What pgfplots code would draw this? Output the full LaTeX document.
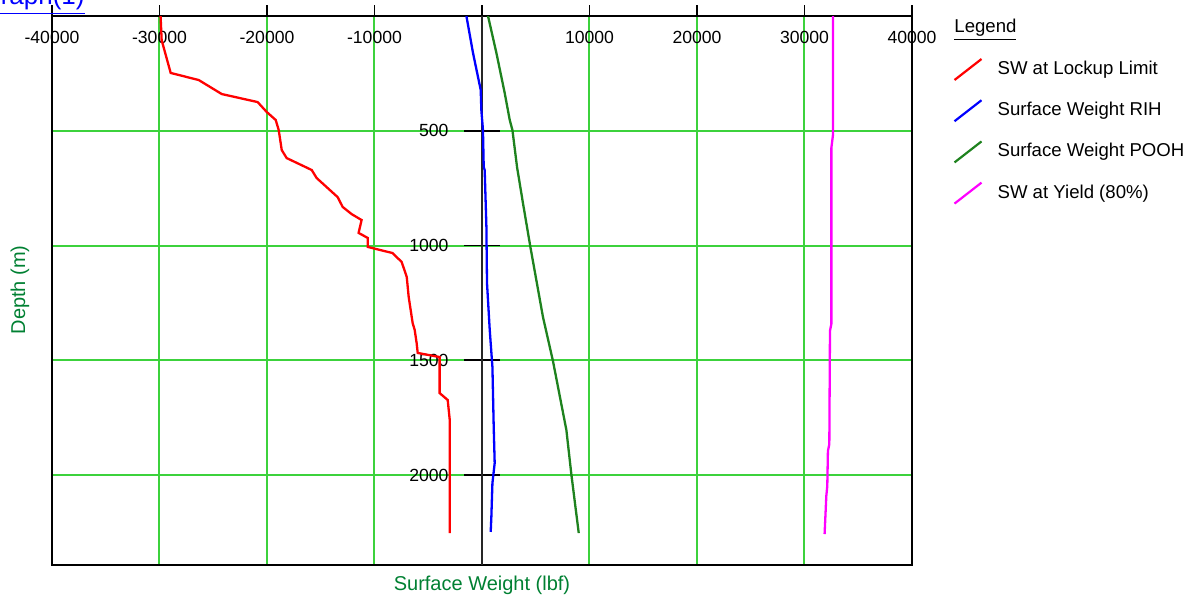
\documentclass[border=0pt]{standalone}
\usepackage{fontspec}
\setmainfont{Liberation Sans}
\usepackage{pgfplots}
\pgfplotsset{compat=1.18}

\definecolor{gridgreen}{RGB}{60,210,60}
\definecolor{labelgreen}{RGB}{0,128,50}
\definecolor{poohgreen}{RGB}{30,130,30}
\definecolor{swred}{RGB}{255,0,0}
\definecolor{swblue}{RGB}{0,0,255}
\definecolor{swmag}{RGB}{255,0,255}

\pgfplotsset{
  common/.style={
    at={(0,0)}, anchor=south west,
    scale only axis,
    width=430pt, height=274.5pt,
    xmin=-40000, xmax=40000,
    ymin=0, ymax=2392,
    y dir=reverse,
    /pgf/number format/assume math mode=true,
    scaled ticks=false,
    ticklabel style={font=\fontsize{8.8}{10}\selectfont},
  }
}

\begin{document}
\begin{tikzpicture}
% frame, grid, x ticks on top
\begin{axis}[
  common,
  axis line style={black, line width=0.9pt},
  xtick={-40000,-30000,...,40000},
  xticklabels={-40000,-30000,-20000,-10000,,10000,20000,30000,40000},
  xtick pos=upper, xticklabel pos=upper,
  tick align=outside,
  major tick length=5.5pt,
  x tick style={black, line width=0.8pt},
  xticklabel style={anchor=center, yshift=-16pt},
  ytick={500,1000,1500,2000},
  yticklabels={},
  y tick style={draw=none},
  grid=major,
  major grid style={gridgreen, line width=1pt},
  xlabel={Surface Weight (lbf)},
  ylabel={Depth (m)},
  label style={font=\fontsize{10}{12}\selectfont, text=labelgreen},
  xlabel style={at={(axis description cs:0.5,-0.0364)}, anchor=center},
  ylabel style={at={(axis description cs:-0.0372,0.501)}, anchor=center, rotate=0},
]
\end{axis}
% zero line, depth ticks and the curves
\begin{axis}[
  common,
  axis x line=none,
  axis y line=middle,
  axis line style={-, black!85, line width=0.9pt},
  ytick={500,1000,1500,2000},
  yticklabels={500,1000,1500,2000},
  tick align=center,
  major tick length=17.5pt,
  y tick style={black, line width=0.9pt},
  yticklabel style={anchor=east, xshift=-4.5pt},
  legend cell align=left,
  legend image code/.code={\draw[#1, line width=1.1pt] (0pt,-5.25pt) -- (13.5pt,5.25pt);},
  legend style={at={(1.0477,0.9244)}, anchor=north west, draw=none, fill=none,
    inner sep=0pt, row sep=9pt,
    font=\fontsize{9.3}{11}\selectfont,
    nodes={inner sep=0pt, text height=7pt, text depth=2pt},
    /tikz/every odd column/.append style={column sep=7.5pt}},
]
\addplot[swred, line width=1.15pt] coordinates {
(-29900,0) (-29800,105) (-28960,248) (-26350,279) (-24210,340) (-20870,375)
(-20030,418) (-19190,453) (-18910,497) (-18630,584) (-18170,619) (-15840,671)
(-15380,706) (-13430,789) (-12960,832) (-12130,863) (-11200,889) (-11480,945)
(-10630,967) (-10630,1006) (-8310,1033) (-7470,1072) (-7000,1137) (-6820,1224)
(-6450,1338) (-6260,1368) (-6080,1425) (-5980,1468) (-3940,1486) (-3940,1643)
(-3190,1673) (-3000,1760) (-3000,2253)
};
\addlegendentry{SW at Lockup Limit}
\addplot[swblue, line width=1.15pt] coordinates {
(-1450,0) (-840,160) (-370,266) (-120,322) (-60,410) (90,497) (160,658)
(250,671) (410,919) (465,1163) (720,1368) (970,1529) (1090,1791) (1180,1948)
(970,2035) (870,2183) (810,2248)
};
\addlegendentry{Surface Weight RIH}
\addplot[poohgreen, line width=1.15pt] coordinates {
(560,0) (1340,161) (2110,335) (2580,453) (2830,497) (3260,658) (3810,815)
(4500,1006) (5670,1311) (6600,1503) (7850,1804) (8320,2000) (9000,2253)
};
\addlegendentry{Surface Weight POOH}
\addplot[swmag, line width=1.15pt] coordinates {
(32660,0) (32660,514) (32500,575) (32500,1342) (32370,1372) (32310,1865)
(32180,1895) (32120,2048) (32030,2091) (31870,2257)
};
\addlegendentry{SW at Yield (80\%)}
\end{axis}
\node[anchor=west, font=\fontsize{9.3}{11}\selectfont, inner sep=0pt]
  at (451pt,267.5pt) {\underline{Legend}};
\node[anchor=base east, text=blue, font=\fontsize{13}{15}\selectfont, inner sep=0pt]
  at (16.5pt,280pt) {\underline{Graph(1)}};
\pgfresetboundingbox
\path[use as bounding box] (-26pt,-17.5pt) rectangle (571pt,282.5pt);
\end{tikzpicture}
\end{document}
